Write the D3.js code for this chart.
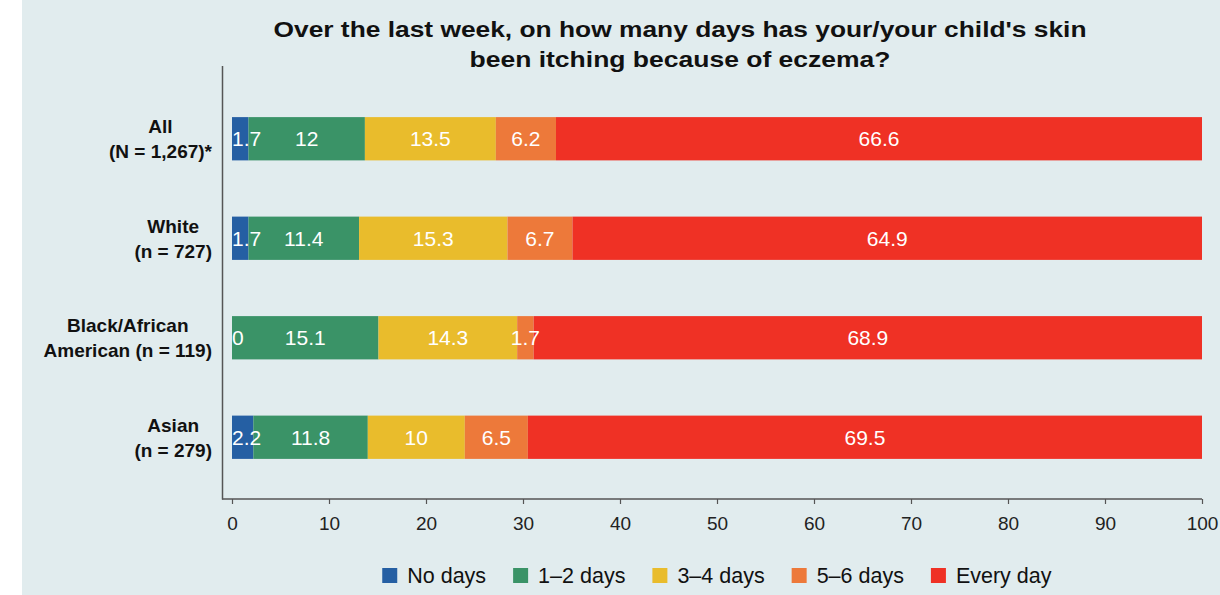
<!DOCTYPE html>
<html><head><meta charset="utf-8">
<script src="https://cdn.jsdelivr.net/npm/d3@7"></script>
<style>
html,body{margin:0;padding:0;background:#fff;}
svg{display:block;}
text{font-family:"Liberation Sans",Arial,Helvetica,sans-serif;}
</style></head>
<body>
<svg id="chart" width="1220" height="595"></svg>
<script>
const categories = [["All","(N = 1,267)*"],["White","(n = 727)"],["Black/African","American (n = 119)"],["Asian","(n = 279)"]];
const seriesNames = ["No days","1–2 days","3–4 days","5–6 days","Every day"];
const noDays   = [1.7, 1.7, 0, 2.2];
const days12   = [12, 11.4, 15.1, 11.8];
const days34   = [13.5, 15.3, 14.3, 10];
const days56   = [6.2, 6.7, 1.7, 6.5];
const everyDay = [66.6, 64.9, 68.9, 69.5];
const xTicks = [0,10,20,30,40,50,60,70,80,90,100];
const titleLines = ["Over the last week, on how many days has your/your child's skin","been itching because of eczema?"];
const colors = ["#255fa3","#3a9367","#e9bc2c","#ed793a","#ef3125"];

const series = [noDays, days12, days34, days56, everyDay];
const keys = categories.map(c => c.join(" "));
const table = keys.map((k,i) => {
  const o = {key:k};
  seriesNames.forEach((s,j) => o[s] = series[j][i]);
  return o;
});
const stacked = d3.stack().keys(seriesNames)(table);

const svg = d3.select("#chart");
svg.append("rect").attr("x",22).attr("y",0).attr("width",1198).attr("height",595).attr("fill","#e1ecee");

const x = d3.scaleLinear().domain([0,100]).range([232,1202]);
const y = d3.scaleBand().domain(keys).range([89,487]).paddingInner(0.565).paddingOuter(0.2825);

// title
const titleW = [813, 421];
svg.append("g").selectAll("text").data(titleLines).join("text")
  .attr("x",680).attr("y",(d,i)=>36.5+i*30)
  .attr("text-anchor","middle").attr("font-weight","bold").attr("font-size",22.5).attr("fill","#111")
  .attr("textLength",(d,i)=>titleW[i]).attr("lengthAdjust","spacingAndGlyphs")
  .text(d=>d);

// bars
const g = svg.append("g");
stacked.forEach((s,j) => {
  g.append("g").selectAll("rect").data(s).join("rect")
    .attr("x", d=>x(d[0])).attr("width", d=>x(d[1])-x(d[0]))
    .attr("y", d=>y(d.data.key)).attr("height", y.bandwidth())
    .attr("fill", colors[j]);
});
// value labels
stacked.forEach((s,j) => {
  g.append("g").selectAll("text").data(s).join("text")
    .attr("y", d=>y(d.data.key)+y.bandwidth()/2+7.5)
    .attr("font-size",21).attr("fill","#fff").attr("text-anchor","start")
    .text(d=>d3.format("~g")(d.data[seriesNames[j]]))
    .each(function(d){
      const w = this.getComputedTextLength();
      let cx = (x(d[0])+x(d[1]))/2 - w/2;
      if (cx < x(0)) cx = x(0);
      d3.select(this).attr("x", cx);
    });
});

// axes
const xAxis = d3.axisBottom(x).tickValues(xTicks).tickSize(5).tickSizeOuter(0).tickFormat(d3.format("d"));
const ax = svg.append("g").attr("transform","translate(0,499)").call(xAxis);
ax.select(".domain").remove();
ax.selectAll(".tick line").attr("stroke","#555").attr("stroke-width",1.2);
ax.selectAll(".tick text").attr("font-size",19).attr("fill","#222").attr("y",31).attr("dy",null)
  .attr("font-family","Liberation Sans, Arial, sans-serif");
svg.append("line").attr("x1",222).attr("x2",x(100)).attr("y1",499).attr("y2",499).attr("stroke","#555").attr("stroke-width",1.5);
svg.append("line").attr("x1",222.5).attr("x2",222.5).attr("y1",66).attr("y2",499.5).attr("stroke","#555").attr("stroke-width",1.5);

// category labels
categories.forEach((c,i) => {
  const cy = y(keys[i]) + y.bandwidth()/2;
  const grp = svg.append("g");
  const t = grp.selectAll("text").data(c).join("text")
    .attr("y",(d,k)=>cy - 5.5 + k*25)
    .attr("font-size",19).attr("font-weight","bold").attr("fill","#111").attr("text-anchor","middle")
    .text(d=>d);
  let mw = 0; t.each(function(){ mw = Math.max(mw, this.getComputedTextLength()); });
  t.attr("x", 212 - mw/2);
});

// legend
const lg = svg.append("g");
const items = lg.selectAll("g").data(seriesNames).join("g");
items.append("rect").attr("width",15).attr("height",15).attr("y",568).attr("fill",(d,i)=>colors[i]);
items.append("text").attr("x",25).attr("y",583).attr("font-size",21.5).attr("fill","#111").text(d=>d);
let pos = 0; const gap = 27; const xs = [];
items.each(function(){ const w = this.getBBox().width; xs.push(pos); pos += w + gap; });
const total = pos - gap; const start = 717 - total/2;
items.attr("transform",(d,i)=>`translate(${start+xs[i]},0)`);
</script>
</body></html>
